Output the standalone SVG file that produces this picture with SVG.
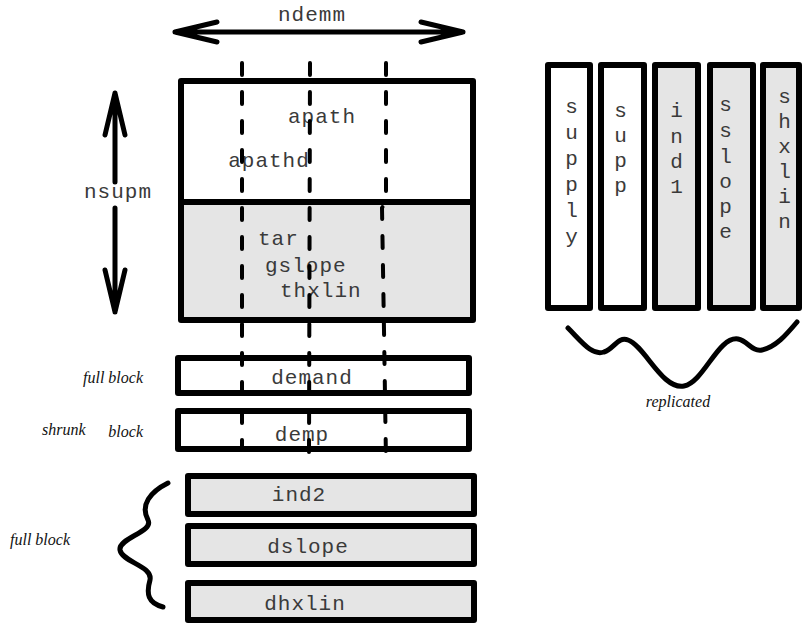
<svg xmlns="http://www.w3.org/2000/svg" width="803" height="624" viewBox="0 0 803 624">
<style>
.box{stroke:#000;stroke-width:6;stroke-linejoin:round}
.w{fill:#fff}
.g{fill:#e5e5e5}
.mono{font-family:"Liberation Mono","DejaVu Sans Mono",monospace;font-size:21px;fill:#3a3a3a;letter-spacing:1px}
.it{font-family:"Liberation Serif","DejaVu Serif",serif;font-style:italic;font-size:16px;fill:#111}
.ln{fill:none;stroke:#000;stroke-width:5;stroke-linecap:round;stroke-linejoin:round}
.dash{fill:none;stroke:#000;stroke-width:4;stroke-linecap:round;stroke-dasharray:12 17}
</style>
<rect width="803" height="624" fill="#fff"/>

<g id="ndemm">
<path class="ln" d="M175,32 L463,32 M217,22 L175,32 L217,42 M421,22 L463,32 L421,42"/>
<text class="mono" x="312" y="21" text-anchor="middle">ndemm</text>
</g>

<g id="nsupm">
<path class="ln" d="M115,93 L115,182 M105,135 L115,93 L125,135 M115,208 L115,312 M105,270 L115,312 L125,270"/>
<text class="mono" x="118" y="198" text-anchor="middle">nsupm</text>
</g>

<g id="mainblock">
<rect class="box w" x="181" y="81" width="292" height="121"/>
<rect class="box g" x="181" y="202" width="292" height="118"/>
<text class="mono" x="322" y="123" text-anchor="middle">apath</text>
<text class="mono" x="269" y="167" text-anchor="middle">apathd</text>
<text class="mono" x="258" y="245">tar</text>
<text class="mono" x="265" y="272">gslope</text>
<text class="mono" x="280" y="297">thxlin</text>
</g>

<g id="demand">
<rect class="box w" x="178" y="358" width="291" height="35"/>
<text class="mono" x="312" y="384" text-anchor="middle">demand</text>
<text class="it" x="143" y="383" text-anchor="end">full block</text>
</g>

<g id="demp">
<rect class="box w" x="178" y="411" width="291" height="38"/>
<text class="mono" x="302" y="441" text-anchor="middle">demp</text>
<text class="it" x="42" y="435">shrunk</text>
<text class="it" x="143" y="437" text-anchor="end">block</text>
</g>

<g id="ind2">
<rect class="box g" x="188" y="476" width="286" height="38"/>
<text class="mono" x="299" y="501" text-anchor="middle">ind2</text>
</g>
<g id="dslope">
<rect class="box g" x="188" y="526" width="286" height="38"/>
<text class="mono" x="308" y="553" text-anchor="middle">dslope</text>
</g>
<g id="dhxlin">
<rect class="box g" x="188" y="583" width="286" height="37"/>
<text class="mono" x="305" y="610" text-anchor="middle">dhxlin</text>
</g>
<g id="fullblock2">
<path class="ln" d="M168,483 C150,492 140,505 148,520 C154,532 118,538 120,550 C122,562 153,566 150,580 C146,594 148,603 163,607"/>
<text class="it" x="10" y="545">full block</text>
</g>

<g id="connectors">
<path class="dash" d="M242,63 L242,447"/>
<path class="dash" d="M310,63 L309,453"/>
<path class="dash" d="M386,63 L386,200 L382,208 L384,330 L386,461"/>
</g>

<g id="supply">
<rect class="box w" x="548" y="65" width="42" height="243"/>
<text class="mono" text-anchor="middle"><tspan x="572" y="113">s</tspan><tspan x="572" y="139">u</tspan><tspan x="572" y="165">p</tspan><tspan x="572" y="191">p</tspan><tspan x="572" y="217">l</tspan><tspan x="572" y="243">y</tspan></text>
</g>
<g id="supp">
<rect class="box w" x="601" y="65" width="43" height="243"/>
<text class="mono" text-anchor="middle"><tspan x="621" y="117">s</tspan><tspan x="621" y="142">u</tspan><tspan x="621" y="167">p</tspan><tspan x="621" y="192">p</tspan></text>
</g>
<g id="ind1">
<rect class="box g" x="655" y="65" width="43" height="243"/>
<text class="mono" text-anchor="middle"><tspan x="677" y="117">i</tspan><tspan x="677" y="143">n</tspan><tspan x="677" y="168">d</tspan><tspan x="677" y="193">1</tspan></text>
</g>
<g id="sslope">
<rect class="box g" x="710" y="65" width="43" height="243"/>
<text class="mono" text-anchor="middle"><tspan x="726" y="111">s</tspan><tspan x="726" y="137">s</tspan><tspan x="726" y="163">l</tspan><tspan x="726" y="188">o</tspan><tspan x="726" y="213">p</tspan><tspan x="726" y="238">e</tspan></text>
</g>
<g id="shxlin">
<rect class="box g" x="763" y="65" width="36" height="243"/>
<text class="mono" text-anchor="middle"><tspan x="785" y="103">s</tspan><tspan x="785" y="128">h</tspan><tspan x="785" y="153">x</tspan><tspan x="785" y="178">l</tspan><tspan x="785" y="203">i</tspan><tspan x="785" y="228">n</tspan></text>
</g>

<g id="replicated">
<path class="ln" d="M568,328 C582,342 592,356 604,352 C614,349 618,336 628,340 C645,346 662,390 684,386 C704,382 718,336 738,339 C748,341 752,352 762,350 C776,347 786,335 797,322"/>
<text class="it" x="678" y="407" text-anchor="middle">replicated</text>
</g>
</svg>
